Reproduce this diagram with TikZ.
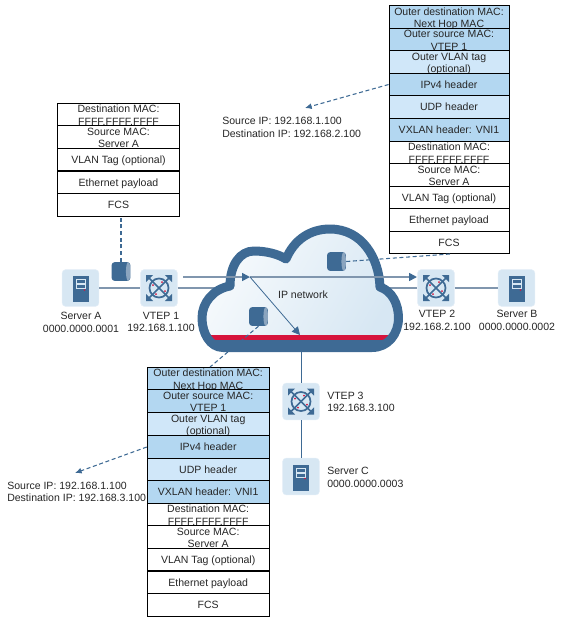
\documentclass[tikz,border=0pt]{standalone}
\usepackage{fontspec}
\setmainfont{Liberation Sans}
\definecolor{hdrdark}{RGB}{179,215,241}
\definecolor{hdrlight}{RGB}{208,231,249}
\definecolor{steel}{RGB}{62,106,148}
\definecolor{tile}{RGB}{215,231,243}
\definecolor{link}{RGB}{128,150,174}
\definecolor{crimson}{RGB}{214,20,60}
\usetikzlibrary{arrows.meta,calc}
\newcommand{\twolines}[2]{\smash{\raisebox{-0.6pt}{\begin{tabular}[c]{@{}c@{}}#1\\#2\end{tabular}}}}
\newcommand{\serverglyph}[1]{%
  \begin{scope}[shift={(#1)}]
    \fill[steel] (-8,-12) rectangle (8,14);
    \draw[tile,line width=0.5pt] (-4.5,-8.5) rectangle (4.5,-4.5);
    \draw[tile,line width=0.5pt] (-4.5,-3.5) rectangle (4.5,0.5);
    \fill[crimson] (4,2) circle (0.9);
  \end{scope}}
\newcommand{\vtepglyph}[1]{%
  \begin{scope}[shift={(#1)}]
    \draw[steel,line width=1.3pt] (0,0) circle (9.5);
    \draw[steel,line width=1.3pt] (-12,-12) -- (12,12);
    \draw[steel,line width=1.3pt] (-12,12) -- (12,-12);
    \foreach \a/\b in {-13/-13,13/-13,13/13,-13/13}
      \fill[steel] (\a,\b) -- ++({-\a*0.55},0) -- ++({\a*0.55},{-\b*0.55}) -- cycle;
    \fill[crimson] (-6,-3) circle (1) (3,-6) circle (1) (6,3) circle (1) (-3,6) circle (1);
  \end{scope}}
\begin{document}
\begin{tikzpicture}[x=0.75pt,y=-0.75pt,
      row/.style={draw=black,line width=0.6pt,minimum width=90pt,minimum height=17pt,
                  inner sep=0pt,text height=6.4pt,text depth=0.8pt,
                  font=\fontsize{7.9}{9.5}\selectfont,text=black!85},
      rowwide/.style={minimum width=91.5pt},
      dark/.style={row,fill=hdrdark},
      light/.style={row,fill=hdrlight},
      plain/.style={row,fill=white},
      capc/.style={align=center,inner sep=0pt,font=\fontsize{7.9}{9.6}\selectfont,text=black!85},
      capl/.style={align=left,inner sep=0pt,anchor=west,font=\fontsize{7.9}{9.5}\selectfont,text=black!85},
      tilebox/.style={fill=tile,draw=tile!70!white,rounded corners=2.5pt,minimum size=27.5pt,inner sep=0pt},
      pkt/.style={fill=steel,rounded corners=2.5pt,minimum size=14.2pt,inner sep=0pt,
                  path picture={\fill[steel!60!white] ([xshift=-1.7pt]path picture bounding box.east) ellipse (1.7pt and 7.1pt);}},
      wire/.style={draw=link,line width=0.8pt},
      flow/.style={draw=link,line width=1.2pt,-{Triangle[length=6pt,width=6pt,color=steel]}},
      dashline/.style={draw=steel,line width=0.8pt,dash pattern=on 3pt off 2pt},
      dasharrow/.style={dashline,-{Latex[length=5pt,width=4.5pt]}}]
      \useasboundingbox (0,0) rectangle (562,619);
      % Icon tiles
      \node[tilebox] (srva) at (80.5,288) {};
      \node[tilebox] (vtepa) at (159,288) {};
      \node[tilebox] (vtepb) at (436,288) {};
      \node[tilebox] (srvb) at (516.5,288) {};
      \node[tilebox] (vtepc) at (301,401.5) {};
      \node[tilebox] (srvc) at (301,476.5) {};
      \coordinate (cloudfoot) at (301,345);
      % Links behind the cloud
      \draw[wire] (srva) -- (vtepa);
      \draw[wire] (vtepa) -- (vtepb);
      \draw[wire] (vtepb) -- (srvb);
      \draw[draw=steel,line width=0.7pt] (cloudfoot) -- (vtepc);
      \draw[draw=steel,line width=0.7pt] (vtepc) -- (srvc);
      \serverglyph{srva.center}
      \serverglyph{srvb.center}
      \serverglyph{srvc.center}
      \vtepglyph{vtepa.center}
      \vtepglyph{vtepb.center}
      \vtepglyph{vtepc.center}
      % Cloud
      \def\cloudpath{(223,347.5) .. controls (210,347.5) and (202,333) .. (202,318)
        .. controls (202,303) and (213,289) .. (230,286)
        .. controls (230,265) and (240,251) .. (254,251)
        .. controls (266,251) and (278,254) .. (286,259)
        .. controls (294,240) and (310,229) .. (330,229)
        .. controls (362,229) and (379,258) .. (380,287)
        .. controls (392,291) and (398.5,304) .. (398.5,318)
        .. controls (398.5,334) and (388,347.5) .. (372,347.5) -- cycle}
      \shade[left color=white!80!tile,right color=tile,shading angle=60] \cloudpath;
      \begin{scope}
        \clip \cloudpath;
        \fill[crimson] (195,335) rectangle (405,339.5);
        \fill[steel] (195,339.5) rectangle (405,352);
      \end{scope}
      \draw[steel,line width=6.75pt,line join=round] \cloudpath;
      \node[font=\fontsize{7.9}{9.5}\selectfont,text=black!85,inner sep=0pt] (ipnet) at (303,295) {IP network};
      % Forwarding arrows
      \coordinate (flowstart) at (183,277);
      \coordinate (flowsplit) at (250,277);
      \coordinate (flowend) at (417,277);
      \coordinate (flowdown) at (300,335);
      \draw[flow] (flowstart) -- (flowsplit);
      \draw[flow] (flowsplit) -- (flowend);
      \draw[draw=steel,line width=0.6pt,-{Triangle[length=6pt,width=6pt]}] (flowsplit) -- (flowdown);
      % Left frame
      \node[plain,rowwide] (la) at (118.5,114.5) {\twolines{Destination MAC:}{FFFF.FFFF.FFFF}};
      \node[plain,rowwide] (lb) at (118.5,137) {\twolines{Source MAC:}{Server A}};
      \node[plain,rowwide] (lc) at (118.5,159.5) {VLAN Tag (optional)};
      \node[plain,rowwide] (ld) at (118.5,182.5) {Ethernet payload};
      \node[plain,rowwide] (le) at (118.5,205) {FCS};
      % Right frame
      \node[dark] (ra) at (449,17) {\twolines{Outer destination MAC:}{Next Hop MAC}};
      \node[dark] (rb) at (449,39.5) {\twolines{Outer source MAC:}{VTEP 1}};
      \node[light] (rc) at (449,62) {\twolines{Outer VLAN tag}{(optional)}};
      \node[dark] (rd) at (449,84.5) {IPv4 header};
      \node[light] (re) at (449,107) {UDP header};
      \node[dark] (rf) at (449,130) {VXLAN header: VNI1};
      \node[plain] (rg) at (449,152.5) {\twolines{Destination MAC:}{FFFF.FFFF.FFFF}};
      \node[plain] (rh) at (449,175) {\twolines{Source MAC:}{Server A}};
      \node[plain] (ri) at (449,197.5) {VLAN Tag (optional)};
      \node[plain] (rj) at (449,220) {Ethernet payload};
      \node[plain] (rk) at (449,242.5) {FCS};
      % Lower frame
      \node[dark,rowwide] (da) at (208.2,378.5) {\twolines{Outer destination MAC:}{Next Hop MAC}};
      \node[dark,rowwide] (db) at (208.2,401) {\twolines{Outer source MAC:}{VTEP 1}};
      \node[light,rowwide] (dc) at (208.2,424) {\twolines{Outer VLAN tag}{(optional)}};
      \node[dark,rowwide] (dd) at (208.2,447) {IPv4 header};
      \node[light,rowwide] (de) at (208.2,469.5) {UDP header};
      \node[dark,rowwide] (df) at (208.2,492) {VXLAN header: VNI1};
      \node[plain,rowwide] (dg) at (208.2,514.5) {\twolines{Destination MAC:}{FFFF.FFFF.FFFF}};
      \node[plain,rowwide] (dh) at (208.2,537) {\twolines{Source MAC:}{Server A}};
      \node[plain,rowwide] (di) at (208.2,559.5) {VLAN Tag (optional)};
      \node[plain,rowwide] (dj) at (208.2,582.5) {Ethernet payload};
      \node[plain,rowwide] (dk) at (208.2,605) {FCS};
      % Packets on the wire
      \node[pkt] (pkta) at (121,271.5) {};
      \node[pkt] (pktb) at (258.5,316.5) {};
      \node[pkt] (pktc) at (336.5,261.5) {};
      \coordinate (rkdash) at (450,254);
      \coordinate (datop) at (210,367);
      \draw[dashline] (pkta.north) -- (pkta.north |- le.south);
      \draw[dashline] (pktb.south) -- (datop);
      \draw[dashline] (pktc.east) -- (rkdash);
      % Address notes
      \coordinate (notertip) at (305,108);
      \coordinate (noteltip) at (75,473);
      \draw[dasharrow] (rd.west) -- (notertip);
      \draw[dasharrow] (dd.west) -- (noteltip);
      \node[capl] (noter) at (222,127.5) {Source IP: 192.168.1.100\\Destination IP: 192.168.2.100};
      \node[capl] (notel) at (7,492) {Source IP: 192.168.1.100\\Destination IP: 192.168.3.100};
      % Device captions
      \node[capc] (srvacap) at (81,322) {Server A\\0000.0000.0001};
      \node[capc] (vtepacap) at (161,322) {VTEP 1\\192.168.1.100};
      \node[capc] (vtepbcap) at (437,320.5) {VTEP 2\\192.168.2.100};
      \node[capc] (srvbcap) at (517,320.5) {Server B\\0000.0000.0002};
      \node[capl] (vtepccap) at (327,402) {VTEP 3\\192.168.3.100};
      \node[capl] (srvccap) at (327,477.5) {Server C\\0000.0000.0003};
    \end{tikzpicture}
\end{document}
